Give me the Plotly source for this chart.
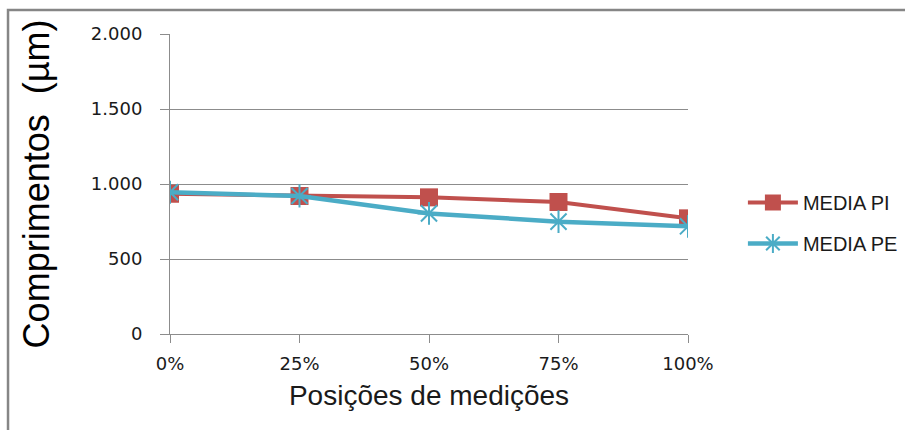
import plotly.graph_objects as go

# Measurement positions along the sample
positions = ["0%", "25%", "50%", "75%", "100%"]
# Mean lengths (µm)
media_pi = [935, 920, 911, 880, 771]
media_pe = [945, 920, 804, 749, 718]

y_ticks = [0, 500, 1000, 1500, 2000]
y_tick_text = ["0", "500", "1.000", "1.500", "2.000"]

RED = "#C0504D"
BLUE = "#4BACC6"
GRID = "#8C8C8C"

fig = go.Figure()
fig.add_trace(go.Scatter(
    x=positions, y=media_pi, name="MEDIA PI", mode="lines+markers",
    legendgroup="pi",
    line=dict(color=RED, width=4),
    marker=dict(symbol="square", size=18, color=RED),
))
fig.add_trace(go.Scatter(
    x=positions, y=media_pe, name="MEDIA PE", mode="lines+markers",
    legendgroup="pe",
    line=dict(color=BLUE, width=4.5),
    marker=dict(symbol="asterisk-open", size=19, color=BLUE,
                line=dict(color=BLUE, width=2)),
))

# plot area spans 518 x 300 px; border frame placed in paper units
fig.update_layout(
    width=905, height=430,
    margin=dict(l=170, r=217, t=34, b=96, autoexpand=False),
    paper_bgcolor="white", plot_bgcolor="white",
    font=dict(family="DejaVu Sans", color="#262626"),
    showlegend=True,
    legend=dict(x=1.106, y=0.37, xanchor="left", yanchor="middle",
                font=dict(family="Liberation Sans", size=20, color="#1a1a1a"),
                tracegroupgap=12, itemwidth=50, bgcolor="rgba(0,0,0,0)"),
    xaxis=dict(
        type="category", range=[0, 4], automargin=False,
        showline=True, linecolor=GRID, linewidth=1,
        ticks="outside", ticklen=8, tickcolor=GRID,
        ticklabelstandoff=5,
        showgrid=False, zeroline=False,
        tickfont=dict(family="DejaVu Sans", size=18, color="#1a1a1a"),
        title=dict(text="Posições de medições", standoff=12,
                   font=dict(family="Liberation Sans", size=28, color="#1a1a1a")),
    ),
    yaxis=dict(
        range=[0, 2000], tickvals=y_ticks, ticktext=y_tick_text, automargin=False,
        showline=True, linecolor=GRID, linewidth=1,
        ticks="outside", ticklen=9, tickcolor=GRID,
        ticklabelstandoff=14,
        showgrid=True, gridcolor=GRID, gridwidth=1, zeroline=False,
        tickfont=dict(family="DejaVu Sans", size=18, color="#1a1a1a"),
        title=dict(text="Comprimentos  (µm)", standoff=30,
                   font=dict(family="Liberation Sans", size=36, color="#000000")),
    ),
    shapes=[dict(type="rect", xref="paper", yref="paper",
                 x0=-0.3127, x1=1.5, y0=-0.6, y1=1.08,
                 line=dict(color="#868686", width=2.5), fillcolor="rgba(0,0,0,0)",
                 layer="below")],
)

fig.write_html("out.html")
